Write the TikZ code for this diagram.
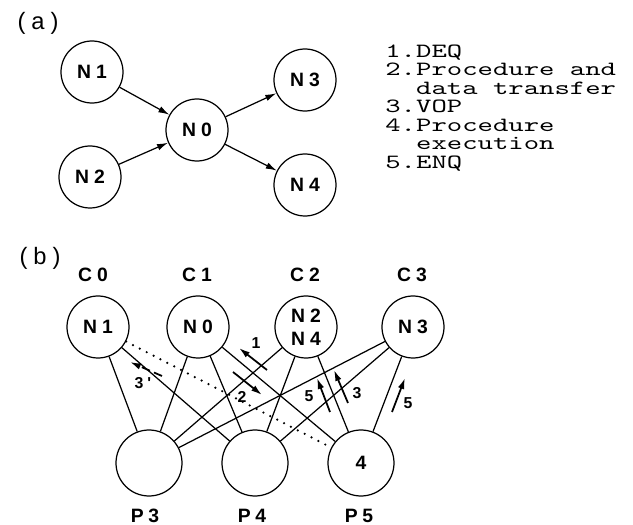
\documentclass[tikz,border=0pt]{standalone}
\usepackage{fontspec}
\newfontfamily\lblfont{Liberation Sans}[LetterSpace=25]
\newfontfamily\typefont{lmmono10-regular.otf}[FakeStretch=1.45]
\usetikzlibrary{arrows.meta}
\tikzset{
  proc/.style ={draw, circle, line width=0.7pt, minimum size=1.24cm, inner sep=0pt, align=center, font=\lblfont\bfseries\fontsize{11}{13}\selectfont},
  pe/.style   ={proc, minimum size=1.32cm},
  tag/.style  ={inner sep=0pt, font=\lblfont\bfseries\fontsize{11}{13}\selectfont},
  part/.style ={inner sep=0pt, font=\lblfont\fontsize{13.5}{15}\selectfont},
  num/.style  ={inner sep=0pt, font=\lblfont\bfseries\fontsize{9}{10}\selectfont},
  arr/.style  ={-{Latex[length=2.2mm,width=1.3mm]}, line width=0.7pt},
  msg/.style  ={-{Latex[length=2.2mm,width=1.3mm]}, line width=1pt},
  link/.style ={line width=0.7pt},
  dots/.style ={line width=1.4pt, dash pattern=on 0pt off 4.4pt, line cap=round},
}

\begin{document}
\begin{tikzpicture}
  \useasboundingbox (0,0) rectangle (12.66,10.5);

  % (a) task graph
  \node[part] (ta) at (0.76,10.04) {(a)};
  \node[proc] (a1) at (1.84,9.06) {N1};
  \node[proc] (a2) at (1.80,6.96) {N2};
  \node[proc] (a0) at (3.94,7.90) {N0};
  \node[proc] (a3) at (6.10,8.90) {N3};
  \node[proc] (a4) at (6.10,6.80) {N4};
  \draw[arr] (a1) -- (a0); \draw[arr] (a2) -- (a0);
  \draw[arr] (a0) -- (a3); \draw[arr] (a0) -- (a4);

  \node[anchor=north west, inner sep=0pt, align=left, font=\typefont\fontsize{11.5}{10.5}\selectfont] (key) at (7.70,9.61)
    {1.DEQ\\2.Procedure and\\\phantom{2.}data transfer\\3.VOP\\4.Procedure\\\phantom{4.}execution\\5.ENQ};

  % (b) clusters and processors
  \node[part] (tb) at (0.80,5.34) {(b)};
  \node[tag] (c0) at (1.86,5.00) {C0};
  \node[tag] (c1) at (3.94,5.00) {C1};
  \node[tag] (c2) at (6.10,5.00) {C2};
  \node[tag] (c3) at (8.24,5.00) {C3};

  \node[proc] (b1)  at (1.96,3.96) {N1};
  \node[proc] (b0)  at (3.96,3.96) {N0};
  \node[proc] (b24) at (6.12,3.96) {N2\\N4};
  \node[proc] (b3)  at (8.26,3.96) {N3};

  \node[pe] (p3) at (2.98,1.24) {};
  \node[pe] (p4) at (5.10,1.24) {};
  \node[pe] (p5) at (7.22,1.24) {4};
  \node[tag] (l3) at (2.90,0.19) {P3};
  \node[tag] (l4) at (5.04,0.19) {P4};
  \node[tag] (l5) at (7.18,0.19) {P5};

  \draw[link] (b1) -- (p3);  \draw[link] (b0) -- (p3);  \draw[link] (b24) -- (p3); \draw[link] (b3) -- (p3);
  \draw[link] (b1) -- (p4);  \draw[link] (b0) -- (p4);  \draw[link] (b24) -- (p4); \draw[link] (b3) -- (p4);
  \draw[dots] (b1) -- (p5);  \draw[link] (b0) -- (p5);  \draw[link] (b24) -- (p5); \draw[link] (b3) -- (p5);

  % message steps
  \coordinate (m1a) at (5.34,3.10); \coordinate (m1b) at (4.78,3.54);
  \coordinate (m2a) at (4.66,3.06); \coordinate (m2b) at (5.24,2.60);
  \coordinate (m3a) at (3.24,2.98); \coordinate (m3b) at (2.60,3.26);
  \coordinate (m4a) at (6.60,2.26); \coordinate (m4b) at (6.34,2.94);
  \coordinate (m5a) at (6.96,2.44); \coordinate (m5b) at (6.68,3.10);
  \coordinate (m6a) at (7.84,2.26); \coordinate (m6b) at (8.10,2.94);
  \draw[msg] (m1a) -- (m1b); \node[num] (s1) at (5.12,3.64) {1};
  \draw[msg] (m2a) -- (m2b); \node[num] (s2) at (4.84,2.56) {2};
  \draw[msg, dash pattern=on 5pt off 2.5pt] (m3a) -- (m3b); \node[num] (s3) at (2.86,2.84) {3'};
  \draw[msg] (m4a) -- (m4b); \node[num] (s4) at (6.18,2.58) {5};
  \draw[msg] (m5a) -- (m5b); \node[num] (s5) at (7.14,2.64) {3};
  \draw[msg] (m6a) -- (m6b); \node[num] (s6) at (8.16,2.44) {5};
\end{tikzpicture}
\end{document}
